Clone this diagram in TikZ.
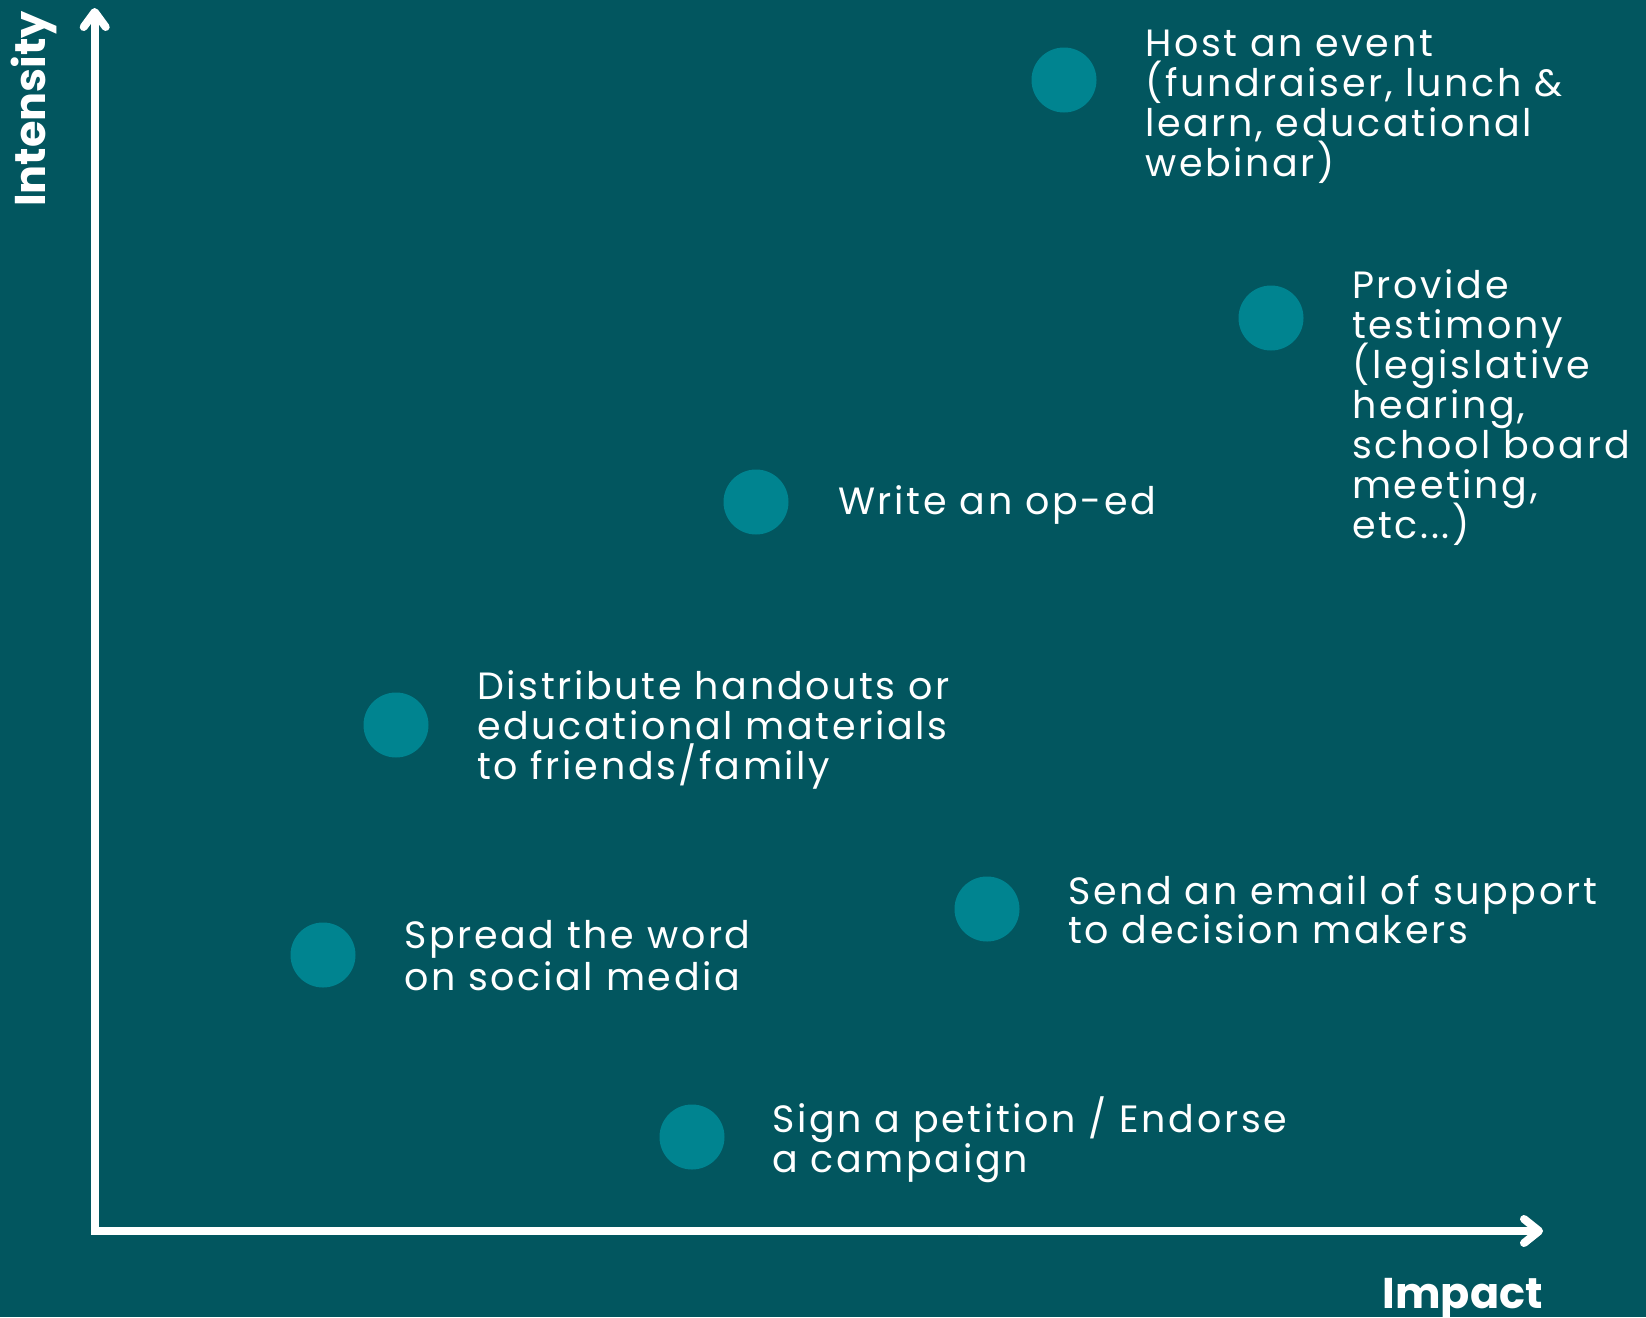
\documentclass[tikz,border=0pt]{standalone}
\usepackage{fontspec}
\setmainfont{Poppins}[LetterSpace=7]
\newfontfamily\axisfont{Poppins}
\definecolor{bgteal}{HTML}{02565F}
\definecolor{dotteal}{HTML}{008490}
\newcommand{\labellines}[2][40pt]{\vtop{\baselineskip=#1\lineskiplimit=-100pt #2}}
\begin{document}
\begin{tikzpicture}[x=1pt,y=-1pt,
  axisline/.style={draw=white,line width=8pt},
  axistip/.style={draw=white,line width=8pt,line cap=round,line join=round},
  dot/.style={circle,fill=dotteal,minimum size=65pt,inner sep=0pt},
  itemtext/.style={anchor=base west,inner sep=0pt,text=white,font=\fontsize{38}{40}\selectfont},
  axislabel/.style={inner sep=0pt,text=white,font=\axisfont\fontsize{43}{45}\selectfont\bfseries}]
  \fill[bgteal] (0,0) rectangle (1646,1317);
  \useasboundingbox (0,0) rectangle (1646,1317);

  % axes
  \coordinate (origin) at (94.7,1231);
  \coordinate (ytip) at (94.7,12);
  \coordinate (xtip) at (1539,1231);
  \draw[axisline] (ytip) -- (origin) -- (xtip);
  \draw[axistip] ([shift={(-11,15)}]ytip) -- (ytip) -- ([shift={(11,15)}]ytip);
  \draw[axistip] ([shift={(-15,-12)}]xtip) -- (xtip) -- ([shift={(-15,12)}]xtip);

  \node[axislabel,anchor=base west,rotate=90] (intensity) at (45,207) {Intensity};
  \node[axislabel,anchor=base east] (impact) at (1543,1308) {Impact};

  % activities
  \node[dot] (d1) at (1064,80) {};
  \node[itemtext] (t1) at (1145,56) {\labellines{\hbox{Host an event}\hbox{(fundraiser, lunch \&}\hbox{learn, educational}\hbox{webinar)}}};

  \node[dot] (d2) at (1271,318) {};
  \node[itemtext] (t2) at (1352,298) {\labellines{\hbox{Provide}\hbox{testimony}\hbox{(legislative}\hbox{hearing,}\hbox{school board}\hbox{meeting,}\hbox{etc...)}}};

  \node[dot] (d3) at (756,502) {};
  \node[itemtext] (t3) at (838,514) {Write an op-ed};

  \node[dot] (d4) at (396,725) {};
  \node[itemtext] (t4) at (477,699) {\labellines{\hbox{Distribute handouts or}\hbox{educational materials}\hbox{to friends/family}}};

  \node[dot] (d5) at (323,955) {};
  \node[itemtext] (t5) at (404,948) {\labellines[42pt]{\hbox{Spread the word}\hbox{on social media}}};

  \node[dot] (d6) at (987,909) {};
  \node[itemtext] (t6) at (1068,904) {\labellines[39pt]{\hbox{Send an email of support}\hbox{to decision makers}}};

  \node[dot] (d7) at (692,1137) {};
  \node[itemtext] (t7) at (772,1132) {\labellines{\hbox{Sign a petition / Endorse}\hbox{a campaign}}};
\end{tikzpicture}
\end{document}
